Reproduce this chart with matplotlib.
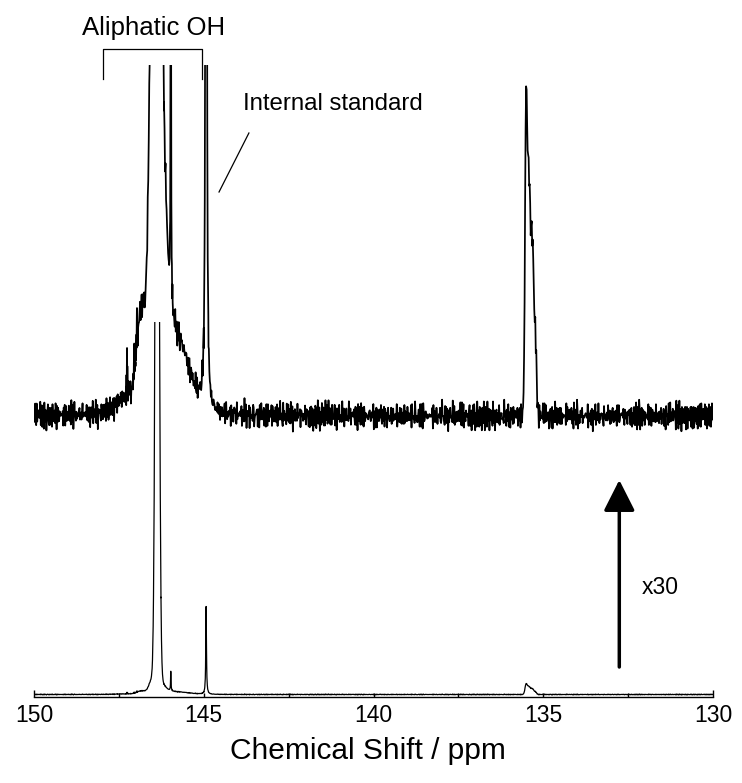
import numpy as np
import matplotlib
matplotlib.use("Agg")
import matplotlib.pyplot as plt
from matplotlib.transforms import Bbox, TransformedBbox

plt.rcParams['font.family'] = ['Liberation Sans', 'DejaVu Sans']

# ---------------- data ----------------
PPM_START, PPM_END, PPM_STEP = 150.0, 130.0, 0.015

# Lorentzian lines: centre (ppm), height (a.u.), half width (ppm)
LOR_CENTER = [146.37, 145.97, 144.93, 147.26, 146.97, 147.05]
LOR_HEIGHT = [30.0, 20.0, 88.0, 1.3, 1.2, 0.8]
LOR_HWHM = [0.10, 0.008, 0.0117, 0.008, 0.006, 0.006]

# Gaussian components: centre (ppm), height (a.u.), sigma (ppm)
GAU_CENTER = [146.37, 146.55, 146.85, 146.20, 145.80, 147.35,
              135.51, 135.43, 135.31, 135.22]
GAU_HEIGHT = [900.0, 7.5, 2.3, 3.0, 2.0, 0.3,
              8.0, 8.0, 5.0, 1.8]
GAU_SIGMA = [0.05, 0.07, 0.12, 0.10, 0.38, 0.25,
             0.03, 0.055, 0.045, 0.03]

# baseline noise pattern (a.u., before scaling)
NOISE_A = [0.3, -0.8, 0.5, 0.1, -0.4, 0.9, -0.2, -0.7, 0.6, 0.0,
           -0.5, 0.8, -0.9, 0.2, 0.4, -0.3, 0.7, -0.6, 0.1, -0.1,
           0.5, -0.8, 0.3, 0.9, -0.4, -0.2, 0.6, -0.7, 0.0, 0.8,
           -0.5, 0.2, -0.9, 0.4, 0.1, -0.3, 0.7, -0.6, 0.5, -0.1,
           -0.8, 0.3, 0.6, -0.4, 0.9, -0.2, 0.0, -0.7, 0.4, 0.2,
           -0.5, 0.8, -0.3, -0.9, 0.6, 0.1, -0.6, 0.7, -0.1, 0.3, -0.4]
NOISE_B = [-0.6, 0.4, 0.9, -0.2, -0.8, 0.1, 0.5, -0.4, 0.7, -0.9,
           0.3, 0.0, -0.5, 0.8, -0.1, -0.7, 0.6, 0.2, -0.3, 0.9,
           -0.6, 0.4, -0.2, 0.5, -0.8, 0.1, 0.7, -0.4, -0.1, 0.3,
           -0.9, 0.6, 0.0, -0.5, 0.8, -0.3, 0.2, -0.7, 0.5, 0.9,
           -0.6, -0.2, 0.4, -0.8, 0.1, 0.7, -0.5, 0.3, -0.1, 0.6,
           -0.9, 0.2, -0.4]
NOISE_SCALE = 0.30

GAIN = 30            # top trace = x30 expansion
BASE_BOTTOM = 2.5    # baseline of the normal spectrum
BASE_TOP = 281.0     # baseline of the x30 spectrum
CLIP_BOTTOM = 375.0
CLIP_TOP = 632.0
Y_MAX = 697.0

TICKS_MAJOR = [150, 145, 140, 135, 130]
TICKS_MINOR = [147.5, 142.5, 137.5, 132.5]

# ---------------- build the spectrum ----------------
coarse = np.arange(PPM_END, PPM_START + PPM_STEP / 2, PPM_STEP)
fine = [c + w * np.array([-6, -4, -3, -2, -1.5, -1, -0.5, -0.25, 0, 0.25, 0.5, 1, 1.5, 2, 3, 4, 6])
        for c, w in zip(LOR_CENTER[1:], LOR_HWHM[1:])]
fine.append(GAU_CENTER[0] + GAU_SIGMA[0] * np.linspace(-4, 4, 41))
ppm = np.unique(np.concatenate([coarse] + fine))
ppm = ppm[(ppm >= PPM_END) & (ppm <= PPM_START)]

spec = np.zeros_like(ppm)
for c, h, w in zip(LOR_CENTER, LOR_HEIGHT, LOR_HWHM):
    spec += h * w ** 2 / ((ppm - c) ** 2 + w ** 2)
for c, h, s in zip(GAU_CENTER, GAU_HEIGHT, GAU_SIGMA):
    spec += h * np.exp(-(ppm - c) ** 2 / (2 * s ** 2))
idx = np.arange(len(ppm))
noise = (np.array(NOISE_A)[idx % len(NOISE_A)] + np.array(NOISE_B)[idx % len(NOISE_B)]) * NOISE_SCALE
spec = spec + noise

bottom = BASE_BOTTOM + spec
top = BASE_TOP + GAIN * spec

# ---------------- figure ----------------
fig = plt.figure(figsize=(7.42, 7.83), dpi=100)
ax = fig.add_axes([34 / 742, 1 - 697 / 783, 679 / 742, 697 / 783])
ax.set_xlim(PPM_START, PPM_END)
ax.set_ylim(0, Y_MAX)

l_top, = ax.plot(ppm, top, color='black', lw=1.25)
l_bot, = ax.plot(ppm, bottom, color='black', lw=0.9)
l_top.set_clip_box(TransformedBbox(Bbox([[0, -0.1], [1, CLIP_TOP / Y_MAX]]), ax.transAxes))
l_bot.set_clip_box(TransformedBbox(Bbox([[0, -0.1], [1, CLIP_BOTTOM / Y_MAX]]), ax.transAxes))

for s in ['left', 'right', 'top']:
    ax.spines[s].set_visible(False)
ax.spines['bottom'].set_linewidth(1.0)
ax.set_yticks([])
ax.set_xticks(TICKS_MAJOR)
ax.set_xticklabels([str(t) for t in TICKS_MAJOR])
ax.set_xticks(TICKS_MINOR, minor=True)
ax.tick_params(axis='x', which='major', direction='in', length=3.2, width=1.0,
               labelsize=16.5, pad=4.8)
ax.tick_params(axis='x', which='minor', direction='in', length=2.6, width=1.0)
major_ticks = ax.xaxis.get_major_ticks()
for t in (major_ticks[0], major_ticks[-1]):
    t.tick1line.set_markersize(5.0)

# annotations
ax.text(146.47, 662, 'Aliphatic OH', ha='center', va='baseline', fontsize=18.5)
ax.plot([147.97, 147.97, 145.05, 145.05], [618, 648, 648, 618], color='black', lw=0.9,
        clip_on=False)
ax.text(143.84, 587, 'Internal standard', ha='left', va='baseline', fontsize=17.3)
ax.plot([144.55, 143.67], [505, 564], color='black', lw=0.9, clip_on=False)

ax.annotate('', xy=(132.76, 217), xytext=(132.76, 30),
            arrowprops=dict(arrowstyle='-|>,head_length=0.95,head_width=0.48',
                            mutation_scale=20, lw=2.5, color='black',
                            shrinkA=0, shrinkB=0))
ax.text(132.09, 110, 'x30', ha='left', va='center', fontsize=16.5)

fig.text(368 / 742, 1 - 759 / 783, 'Chemical Shift / ppm', ha='center', va='baseline',
         fontsize=21.5)

fig.savefig('out.png', dpi=100)
